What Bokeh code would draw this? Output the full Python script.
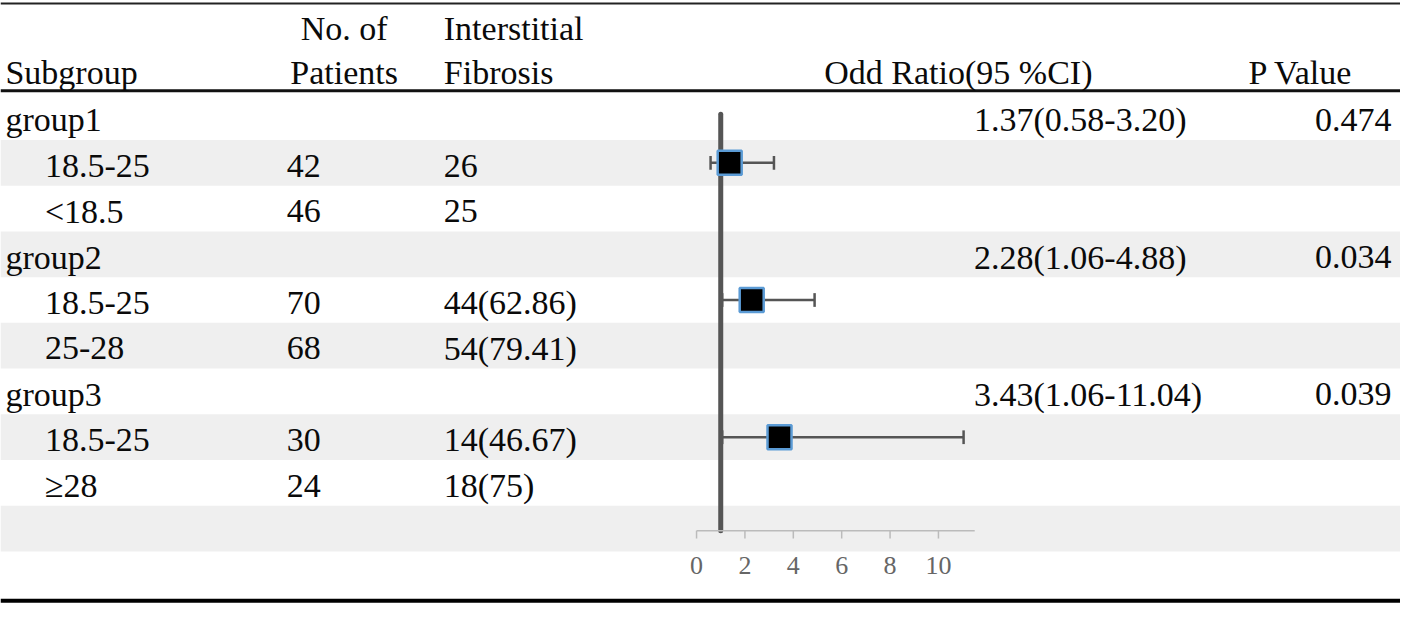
from bokeh.plotting import figure
from bokeh.models import Range1d
from bokeh.core.properties import value
from bokeh.embed import file_html
from bokeh.resources import INLINE

# ---------------- data ----------------
subgroups = ["group1", "18.5-25", "<18.5", "group2", "18.5-25", "25-28", "group3", "18.5-25", "\u226528"]
is_group = [True, False, False, True, False, False, True, False, False]
patients = ["", "42", "46", "", "70", "68", "", "30", "24"]
fibrosis = ["", "26", "25", "", "44(62.86)", "54(79.41)", "", "14(46.67)", "18(75)"]

or_est = [1.37, 2.28, 3.43]
ci_low = [0.58, 1.06, 1.06]
ci_high = [3.20, 4.88, 11.04]
p_values = ["0.474", "0.034", "0.039"]
group_rows = [0, 3, 6]      # rows holding the OR text / p value
marker_rows = [1, 4, 7]     # rows holding the square + CI
shaded_rows = [1, 3, 5, 7, 9]
x_ticks = [0, 2, 4, 6, 8, 10]
x_tick_labels = ["0", "2", "4", "6", "8", "10"]

# ---------------- layout helpers (reference pixel -> data units) ----------------
X0, XS = 705.0, 24.5     # OR 0 at px 705, 24.5 px per unit
Y0, YS = 120.0, 47.1     # row 0 centre at px 120, 47.1 px per row
def X(px): return (px - X0) / XS
def Y(px): return (px - Y0) / YS

W, H = 1400, 606
FONT = value("Liberation Serif")
FS = "34px"
TC = "#0a0a0a"

p = figure(width=W, height=H, output_backend="svg", toolbar_location=None,
           x_range=Range1d(X(0), X(1418)), y_range=Range1d(Y(624), Y(0)),
           x_axis_type=None, y_axis_type=None, min_border=0,
           background_fill_color="white", border_fill_color="white")
p.outline_line_color = None
p.xgrid.visible = False
p.ygrid.visible = False

# shaded bands
p.hbar(y=shaded_rows, height=1.0, left=X(0), right=X(1418), fill_color="#efefef", line_color=None)

# rules
p.segment(x0=[X(0)], y0=[Y(3)], x1=[X(1418)], y1=[Y(3)], line_color="#222222", line_width=2)
p.segment(x0=[X(0)], y0=[Y(93)], x1=[X(1418)], y1=[Y(93)], line_color="#111111", line_width=3)
p.segment(x0=[X(0)], y0=[Y(618)], x1=[X(1418)], y1=[Y(618)], line_color="#000000", line_width=4)

# header
hy2, hy1 = Y(74), Y(29)
p.text(x=[X(5)], y=[hy2], text=["Subgroup"], text_font=FONT, text_font_size=FS, text_baseline="middle", text_color=TC)
p.text(x=[X(348), X(348)], y=[hy1, hy2], text=["No. of", "Patients"], text_font=FONT, text_font_size=FS,
       text_baseline="middle", text_align="center", text_color=TC)
p.text(x=[X(449), X(449)], y=[hy1, hy2], text=["Interstitial", "Fibrosis"], text_font=FONT, text_font_size=FS,
       text_baseline="middle", text_color=TC)
p.text(x=[X(1106)], y=[hy2], text=["Odd Ratio(95 %CI)"], text_font=FONT, text_font_size=FS,
       text_baseline="middle", text_align="right", text_color=TC)
p.text(x=[X(1264)], y=[hy2], text=["P Value"], text_font=FONT, text_font_size=FS,
       text_baseline="middle", text_color=TC)

# table body
rows = list(range(len(subgroups)))
ty = [r + 0.06 for r in rows]
label_x = [X(5) if g else X(45) for g in is_group]
p.text(x=label_x, y=ty, text=subgroups, text_font=FONT, text_font_size=FS, text_baseline="middle", text_color=TC)
p.text(x=[X(290)] * len(rows), y=ty, text=patients, text_font=FONT, text_font_size=FS, text_baseline="middle", text_color=TC)
p.text(x=[X(449)] * len(rows), y=ty, text=fibrosis, text_font=FONT, text_font_size=FS, text_baseline="middle", text_color=TC)

or_text = [f"{o:.2f}({l:.2f}-{h:.2f})" for o, l, h in zip(or_est, ci_low, ci_high)]
gy = [r + 0.06 for r in group_rows]
p.text(x=[X(986)] * 3, y=gy, text=or_text, text_font=FONT, text_font_size=FS, text_baseline="middle", text_color=TC)
p.text(x=[X(1409)] * 3, y=gy, text=p_values, text_font=FONT, text_font_size=FS, text_baseline="middle",
       text_align="right", text_color=TC)

# forest: reference line at OR = 1
p.segment(x0=[1], y0=[Y(117)], x1=[1], y1=[Y(546)], line_color="#555555", line_width=5, line_cap="round")

# CIs
p.segment(x0=ci_low, y0=marker_rows, x1=ci_high, y1=marker_rows, line_color="#555555", line_width=2.5)
cap = 0.15
p.segment(x0=ci_low, y0=[r - cap for r in marker_rows], x1=ci_low, y1=[r + cap for r in marker_rows],
          line_color="#555555", line_width=2.5)
p.segment(x0=ci_high, y0=[r - cap for r in marker_rows], x1=ci_high, y1=[r + cap for r in marker_rows],
          line_color="#555555", line_width=2.5)
p.scatter(x=or_est, y=marker_rows, marker="square", size=24, fill_color="black",
          line_color="#5b9bd5", line_width=2.5)

# x axis of the forest panel
ay = Y(546)
p.segment(x0=[0], y0=[ay], x1=[11.5], y1=[ay], line_color="#bbbbbb", line_width=1.5)
p.segment(x0=x_ticks, y0=[ay] * len(x_ticks), x1=x_ticks, y1=[Y(554)] * len(x_ticks),
          line_color="#bbbbbb", line_width=1.5)
p.text(x=x_ticks, y=[Y(582)] * len(x_ticks), text=x_tick_labels, text_font=FONT, text_font_size="26px",
       text_baseline="middle", text_align="center", text_color="#666666")

open("out.html", "w").write(file_html(p, INLINE))
